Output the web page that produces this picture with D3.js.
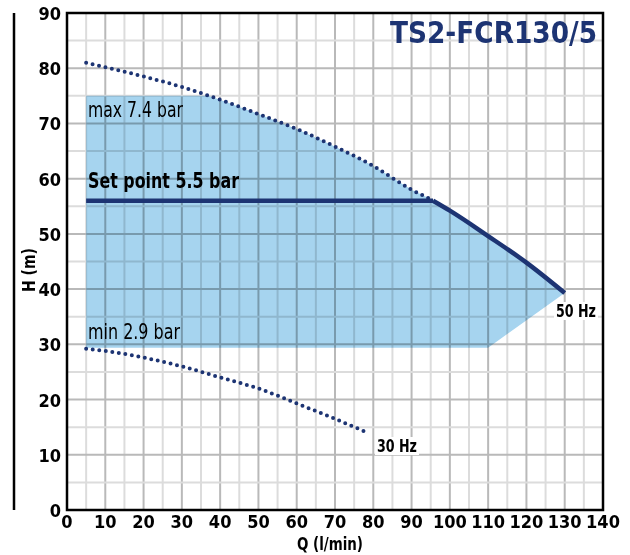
<!DOCTYPE html>
<html>
<head>
<meta charset="utf-8">
<script src="https://cdn.jsdelivr.net/npm/d3@7"></script>
<style>
  body { margin: 0; background: #fff; }
  svg text { font-family: "Liberation Sans Narrow", "DejaVu Sans", sans-serif; font-stretch: condensed; }
</style>
</head>
<body>
<svg id="chart" width="630" height="555"></svg>
<script>
// pump curves (Q in l/min, H in m)
var curve50Q = [5, 10, 20, 30, 40, 50, 60, 70, 80, 90, 95.6];
var curve50H = [81, 80.2, 78.5, 76.6, 74.3, 71.7, 69, 65.8, 62.3, 58, 56.1];
var setPointQ = [5, 95.6];
var setPointH = [56, 56];
var solidQ = [95.6, 100, 110, 120, 130];
var solidH = [56, 54.2, 49.6, 44.8, 39.3];
var curve30Q = [5, 10, 20, 30, 40, 50, 60, 70, 77.5];
var curve30H = [29.2, 28.8, 27.6, 26.0, 24.0, 22.0, 19.3, 16.5, 14.3];
// operating area: top edge, meets 50 Hz curve, then down to the bottom edge
var areaTopH = 75;
var areaBottomH = 29.4;
var areaCornerQ = 110;
var xTicks = [0, 10, 20, 30, 40, 50, 60, 70, 80, 90, 100, 110, 120, 130, 140];
var yTicks = [0, 10, 20, 30, 40, 50, 60, 70, 80, 90];

function drawChart() {
    var svg = d3.select("#chart");
    var mLeft = 67, mRight = 603, mTop = 13, mBottom = 510;

    var x = d3.scaleLinear().domain([0, 140]).range([mLeft, mRight]);
    var y = d3.scaleLinear().domain([0, 90]).range([mBottom, mTop]);

    var navy = "#1d3473";

    // grid
    var grid = svg.append("g");
    d3.range(5, 140, 5).forEach(function (v) {
        grid.append("line")
            .attr("x1", x(v)).attr("x2", x(v)).attr("y1", mTop).attr("y2", mBottom)
            .attr("stroke", v % 10 == 0 ? "#b9b9b9" : "#dcdcdc")
            .attr("stroke-width", 2);
    });
    d3.range(5, 90, 5).forEach(function (v) {
        grid.append("line")
            .attr("x1", mLeft).attr("x2", mRight).attr("y1", y(v)).attr("y2", y(v))
            .attr("stroke", v % 10 == 0 ? "#b9b9b9" : "#dcdcdc")
            .attr("stroke-width", 2);
    });

    // operating area
    var upper = d3.scaleLinear().domain(curve50Q.concat(solidQ.slice(1))).range(curve50H.concat(solidH.slice(1)));
    var qTop = d3.range(5, 130, 0.5).find(function (q) { return upper(q) <= areaTopH; });
    var areaPts = [[5, areaTopH], [qTop, areaTopH]];
    d3.range(Math.ceil(qTop), 130, 1).forEach(function (q) { areaPts.push([q, upper(q)]); });
    areaPts.push([130, solidH[solidH.length - 1]]);
    areaPts.push([areaCornerQ, areaBottomH]);
    areaPts.push([5, areaBottomH]);

    var straight = d3.line().x(function (d) { return x(d[0]); }).y(function (d) { return y(d[1]); });

    svg.append("path")
        .attr("d", straight(areaPts) + "Z")
        .attr("fill", "#a6d4ef")
        .style("mix-blend-mode", "multiply");

    // dotted curves
    var lineGen = d3.line().curve(d3.curveMonotoneX)
        .x(function (d) { return x(d[0]); }).y(function (d) { return y(d[1]); });

    svg.append("path")
        .attr("d", lineGen(d3.zip(curve50Q, curve50H)))
        .attr("fill", "none").attr("stroke", navy)
        .attr("stroke-width", 4).attr("stroke-linecap", "round")
        .attr("stroke-dasharray", "0 6.6");

    svg.append("path")
        .attr("d", lineGen(d3.zip(curve30Q, curve30H)))
        .attr("fill", "none").attr("stroke", navy)
        .attr("stroke-width", 4).attr("stroke-linecap", "round")
        .attr("stroke-dasharray", "0 6.6");

    // set point line and 50 Hz curve
    svg.append("path")
        .attr("d", straight(d3.zip(setPointQ, setPointH)))
        .attr("fill", "none").attr("stroke", navy)
        .attr("stroke-width", 4.5);

    svg.append("path")
        .attr("d", lineGen(d3.zip(solidQ, solidH)))
        .attr("fill", "none").attr("stroke", navy)
        .attr("stroke-width", 4.5);

    // frame
    svg.append("rect")
        .attr("x", mLeft).attr("y", mTop).attr("width", mRight - mLeft).attr("height", mBottom - mTop)
        .attr("fill", "none").attr("stroke", "#000").attr("stroke-width", 2.5);

    svg.append("line")
        .attr("x1", 14).attr("x2", 14).attr("y1", mTop).attr("y2", mBottom)
        .attr("stroke", "#000").attr("stroke-width", 2.5);

    // tick labels
    svg.append("g").selectAll("text").data(yTicks).enter().append("text")
        .attr("x", 61).attr("y", function (d) { return y(d) + 7; })
        .attr("text-anchor", "end")
        .attr("font-size", 18).attr("font-weight", "bold")
        .text(function (d) { return d; });

    svg.append("g").selectAll("text").data(xTicks).enter().append("text")
        .attr("x", function (d) { return x(d); }).attr("y", 528)
        .attr("text-anchor", "middle")
        .attr("font-size", 18).attr("font-weight", "bold")
        .text(function (d) { return d; });

    svg.append("text")
        .attr("x", 330).attr("y", 550)
        .attr("text-anchor", "middle")
        .attr("font-size", 18).attr("font-weight", "bold")
        .attr("textLength", 66).attr("lengthAdjust", "spacingAndGlyphs")
        .text("Q (l/min)");

    svg.append("text")
        .attr("transform", "translate(35,270) rotate(-90)")
        .attr("text-anchor", "middle")
        .attr("font-size", 18).attr("font-weight", "bold")
        .attr("textLength", 44).attr("lengthAdjust", "spacingAndGlyphs")
        .text("H (m)");

    // title
    svg.append("text")
        .attr("x", 597).attr("y", 43)
        .attr("text-anchor", "end")
        .attr("font-size", 30).attr("font-weight", "bold")
        .attr("textLength", 207).attr("lengthAdjust", "spacingAndGlyphs")
        .attr("fill", navy)
        .text("TS2-FCR130/5");

    // annotations
    svg.append("text")
        .attr("x", 88).attr("y", 117)
        .attr("font-size", 21)
        .attr("textLength", 95).attr("lengthAdjust", "spacingAndGlyphs")
        .text("max 7.4 bar");

    svg.append("text")
        .attr("x", 88).attr("y", 188)
        .attr("font-size", 22).attr("font-weight", "bold")
        .attr("textLength", 151).attr("lengthAdjust", "spacingAndGlyphs")
        .text("Set point 5.5 bar");

    svg.append("text")
        .attr("x", 88).attr("y", 339)
        .attr("font-size", 21)
        .attr("textLength", 92).attr("lengthAdjust", "spacingAndGlyphs")
        .text("min 2.9 bar");

    function boxedLabel(tx, ty, label) {
        var g = svg.append("g");
        var rect = g.append("rect").attr("fill", "#fff");
        var t = g.append("text")
            .attr("x", tx).attr("y", ty)
            .attr("font-size", 18).attr("font-weight", "bold")
            .attr("textLength", 40).attr("lengthAdjust", "spacingAndGlyphs")
            .text(label);
        var b = t.node().getBBox();
        rect.attr("x", b.x - 2).attr("y", b.y + 2).attr("width", b.width + 4).attr("height", b.height - 3);
    }
    boxedLabel(556, 317, "50 Hz");
    boxedLabel(377, 452, "30 Hz");
}

drawChart();
</script>
</body>
</html>
